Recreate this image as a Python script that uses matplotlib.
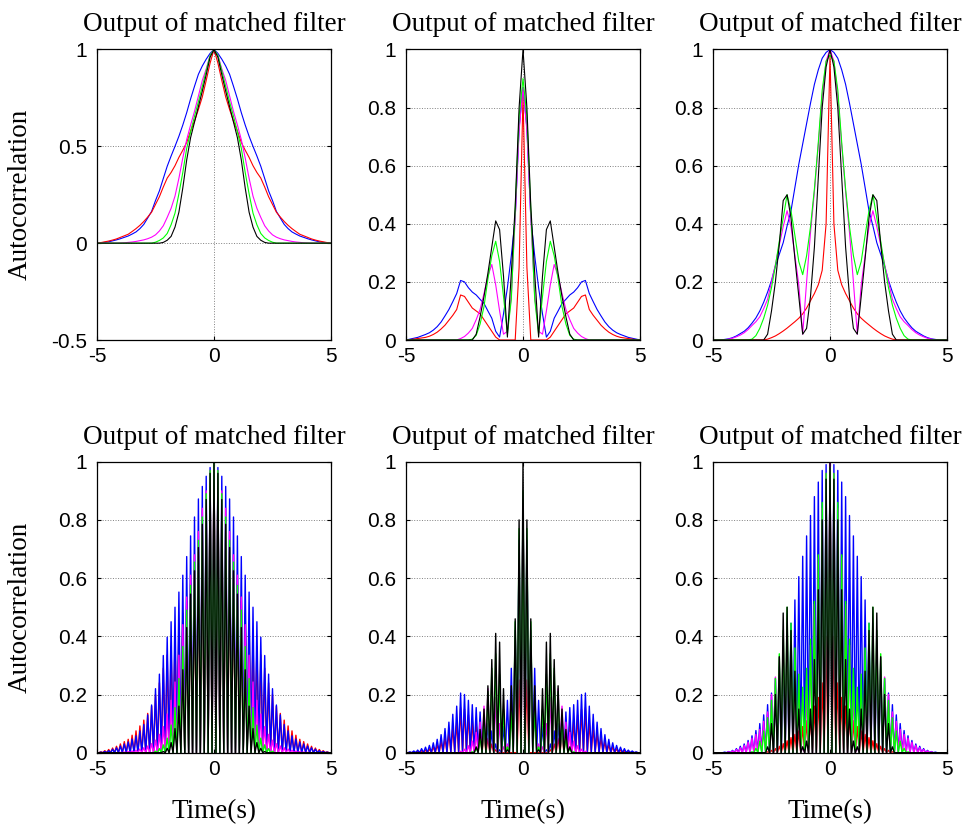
import numpy as np
import matplotlib.pyplot as plt

plt.rcParams['axes.unicode_minus'] = False

# time samples (s), one side; curves are symmetric about t = 0
t_half = np.arange(31) / 6.0

# left panel: autocorrelation, one side from t = 0 to 5
left_blue = [1.0, 0.98, 0.95, 0.915, 0.872, 0.81, 0.745, 0.674, 0.61, 0.552, 0.50,
             0.45, 0.397, 0.334, 0.27, 0.22, 0.164, 0.13, 0.097, 0.075, 0.058,
             0.047, 0.037, 0.03, 0.023, 0.017, 0.012, 0.007, 0.004, 0.002, 0.0]
left_red = [1.0, 0.93, 0.84, 0.755, 0.69, 0.63, 0.58, 0.52, 0.48, 0.443, 0.40,
            0.365, 0.336, 0.29, 0.24, 0.20, 0.16, 0.135, 0.112, 0.092, 0.075,
            0.06, 0.046, 0.038, 0.03, 0.022, 0.016, 0.011, 0.007, 0.003, 0.0]
left_magenta = [1.0, 0.97, 0.90, 0.84, 0.76, 0.68, 0.61, 0.535, 0.44, 0.335, 0.243,
                0.18, 0.133, 0.09, 0.063, 0.043, 0.031, 0.023, 0.017, 0.013, 0.009,
                0.006, 0.004, 0.002, 0.001, 0.0, 0.0, 0.0, 0.0, 0.0, 0.0]
left_green = [1.0, 0.97, 0.89, 0.81, 0.73, 0.655, 0.575, 0.49, 0.365, 0.255, 0.155,
              0.095, 0.05, 0.027, 0.014, 0.005, 0.0, 0.0, 0.0, 0.0, 0.0,
              0.0, 0.0, 0.0, 0.0, 0.0, 0.0, 0.0, 0.0, 0.0, 0.0]
left_black = [1.0, 0.96, 0.87, 0.785, 0.705, 0.625, 0.545, 0.43, 0.285, 0.16, 0.083,
              0.035, 0.015, 0.004, 0.0, 0.0, 0.0, 0.0, 0.0, 0.0, 0.0,
              0.0, 0.0, 0.0, 0.0, 0.0, 0.0, 0.0, 0.0, 0.0, 0.0]

# middle panel
mid_blue = [0.87, 0.73, 0.42, 0.29, 0.18, 0.09, 0.01, 0.03, 0.075, 0.10, 0.126,
            0.14, 0.155, 0.165, 0.18, 0.20, 0.205, 0.16, 0.132, 0.105, 0.083,
            0.062, 0.046, 0.034, 0.025, 0.019, 0.014, 0.009, 0.006, 0.003, 0.0]
mid_red = [0.84, 0.25, 0.0, 0.0, 0.0, 0.0, 0.0, 0.01, 0.03, 0.05, 0.07,
           0.09, 0.10, 0.11, 0.13, 0.15, 0.155, 0.105, 0.085, 0.068, 0.051,
           0.038, 0.027, 0.019, 0.013, 0.009, 0.007, 0.005, 0.003, 0.001, 0.0]
mid_magenta = [0.87, 0.72, 0.42, 0.15, 0.03, 0.02, 0.10, 0.19, 0.26, 0.22, 0.16,
               0.105, 0.07, 0.04, 0.024, 0.012, 0.005, 0.0, 0.0, 0.0, 0.0,
               0.0, 0.0, 0.0, 0.0, 0.0, 0.0, 0.0, 0.0, 0.0, 0.0]
mid_green = [0.90, 0.77, 0.45, 0.14, 0.02, 0.15, 0.27, 0.34, 0.29, 0.21, 0.115,
             0.055, 0.016, 0.003, 0.0, 0.0, 0.0, 0.0, 0.0, 0.0, 0.0,
             0.0, 0.0, 0.0, 0.0, 0.0, 0.0, 0.0, 0.0, 0.0, 0.0]
mid_black = [1.0, 0.80, 0.46, 0.23, 0.01, 0.22, 0.38, 0.41, 0.32, 0.23, 0.15,
             0.08, 0.02, 0.0, 0.0, 0.0, 0.0, 0.0, 0.0, 0.0, 0.0,
             0.0, 0.0, 0.0, 0.0, 0.0, 0.0, 0.0, 0.0, 0.0, 0.0]

# right panel
right_blue = [1.0, 0.99, 0.97, 0.93, 0.88, 0.815, 0.745, 0.675, 0.605, 0.525, 0.445,
              0.393, 0.335, 0.295, 0.255, 0.205, 0.165, 0.13, 0.10, 0.076, 0.058,
              0.042, 0.03, 0.022, 0.014, 0.008, 0.004, 0.002, 0.0, 0.0, 0.0]
right_red = [0.98, 0.40, 0.24, 0.19, 0.16, 0.135, 0.11, 0.09, 0.075, 0.063, 0.052,
             0.041, 0.031, 0.022, 0.014, 0.008, 0.003, 0.0, 0.0, 0.0, 0.0,
             0.0, 0.0, 0.0, 0.0, 0.0, 0.0, 0.0, 0.0, 0.0, 0.0]
right_magenta = [1.0, 0.96, 0.84, 0.67, 0.51, 0.37, 0.20, 0.02, 0.19, 0.29, 0.39,
                 0.445, 0.39, 0.327, 0.26, 0.20, 0.14, 0.108, 0.08, 0.063, 0.05,
                 0.036, 0.025, 0.017, 0.011, 0.006, 0.003, 0.0, 0.0, 0.0, 0.0]
right_green = [0.98, 0.96, 0.86, 0.68, 0.52, 0.39, 0.29, 0.225, 0.27, 0.36, 0.445,
               0.50, 0.42, 0.34, 0.255, 0.18, 0.12, 0.075, 0.04, 0.015, 0.003,
               0.0, 0.0, 0.0, 0.0, 0.0, 0.0, 0.0, 0.0, 0.0, 0.0]
right_black = [1.0, 0.94, 0.80, 0.56, 0.32, 0.15, 0.04, 0.02, 0.15, 0.28, 0.42,
               0.50, 0.48, 0.33, 0.20, 0.10, 0.02, 0.0, 0.0, 0.0, 0.0,
               0.0, 0.0, 0.0, 0.0, 0.0, 0.0, 0.0, 0.0, 0.0, 0.0]

colors = ['#0000ff', '#ff0000', '#ff00ff', '#00ff00', '#000000']
panels = [
    [left_blue, left_red, left_magenta, left_green, left_black],
    [mid_blue, mid_red, mid_magenta, mid_green, mid_black],
    [right_blue, right_red, right_magenta, right_green, right_black],
]

t = np.concatenate([-t_half[:0:-1], t_half])


def mirror(v):
    v = np.asarray(v, dtype=float)
    return np.concatenate([v[:0:-1], v])


def zigzag(tt, v):
    # carrier-modulated output: peaks at the samples, nulls in between
    x = np.empty(2 * len(tt) - 1)
    x[0::2] = tt
    x[1::2] = (tt[:-1] + tt[1:]) / 2
    y = np.zeros_like(x)
    y[0::2] = v
    return x, y


W, H = 963, 827
fig = plt.figure(figsize=(W / 100, H / 100), dpi=100)

lefts = [97, 406, 713]
aw = 234
rows = [(49.5, 340.0), (461.7, 752.7)]

serif = 'Liberation Serif'
sans = 'Liberation Sans'

for r, (top, bot) in enumerate(rows):
    for c in range(3):
        ax = fig.add_axes([lefts[c] / W, 1 - bot / H, aw / W, (bot - top) / H])
        if r == 0:
            order = [0, 1, 2, 3, 4]
        else:
            order = [1, 0, 2, 3, 4]  # red sits underneath in the modulated row
        for i in order:
            v = mirror(panels[c][i])
            if r == 0:
                ax.plot(t, v, color=colors[i], lw=0.8)
            else:
                x, y = zigzag(t, v)
                ax.plot(x, y, color=colors[i], lw=1.0)
        ax.set_xlim(-5, 5)
        ax.set_xticks([-5, 0, 5])
        if r == 0 and c == 0:
            ax.set_ylim(-0.5, 1)
            ax.set_yticks([-0.5, 0, 0.5, 1])
            ax.set_yticklabels(['-0.5', '0', '0.5', '1'])
        else:
            ax.set_ylim(0, 1)
            ax.set_yticks([0, 0.2, 0.4, 0.6, 0.8, 1])
            ax.set_yticklabels(['0', '0.2', '0.4', '0.6', '0.8', '1'])
        ax.grid(True, ls=':', color='#808080', lw=0.7)
        ax.set_axisbelow(True)
        ax.tick_params(direction='in', length=3, width=0.8, top=True, right=True,
                       labelsize=15)
        ax.tick_params(axis='y', pad=7)
        ax.tick_params(axis='x', pad=5)
        for lab in ax.get_xticklabels() + ax.get_yticklabels():
            lab.set_family(sans)
        for s in ax.spines.values():
            s.set_linewidth(0.9)
        ax.set_title('Output of matched filter', family=serif, fontsize=19.5, pad=13)
        if r == 1:
            ax.set_xlabel('Time(s)', family=serif, fontsize=19.5, labelpad=15)
    fig.text(20 / W, 1 - (top + bot) / 2 / H, 'Autocorrelation', family=serif,
             fontsize=19.5, rotation=90, ha='center', va='center')

fig.savefig('out.png', dpi=100)
